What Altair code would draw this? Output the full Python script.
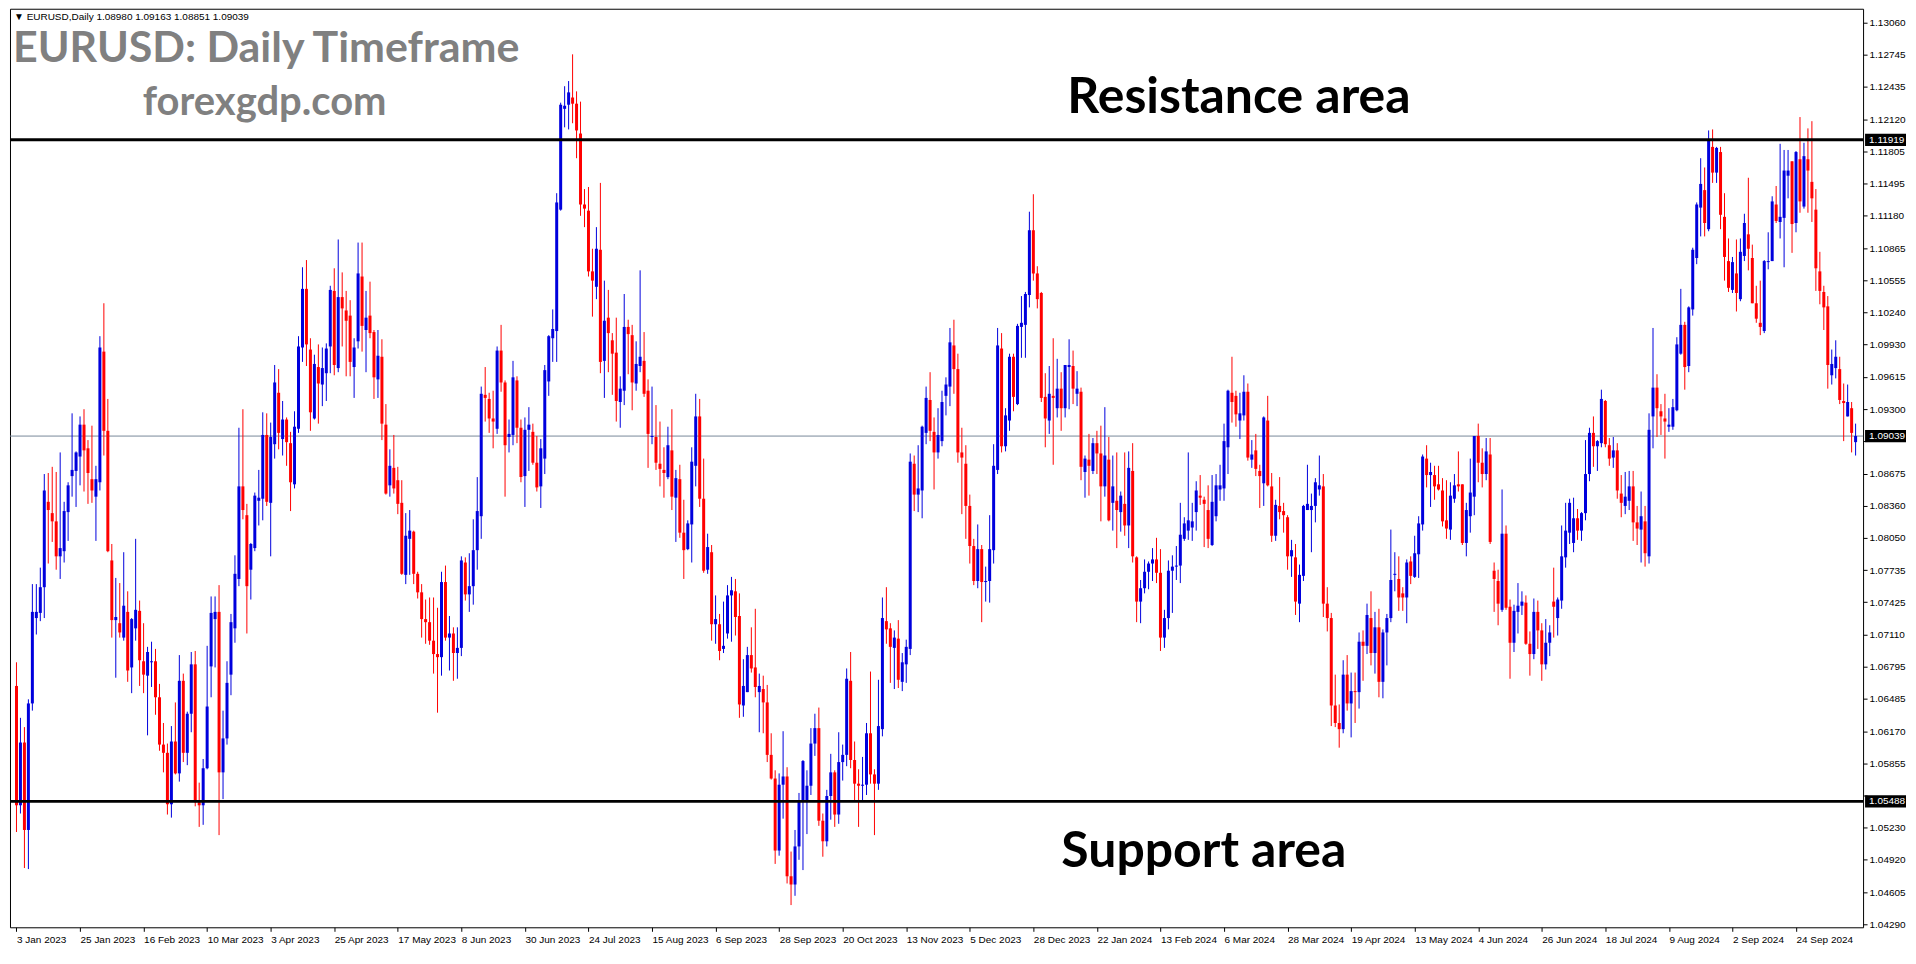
import altair as alt
import pandas as pd

# Daily EURUSD candles, 3 Jan 2023 .. 15 Oct 2024 (prices in 1/10000)
OPEN = [
    10661, 10545, 10606, 10521, 10644, 10727, 10732, 10757, 10840, 10829, 10821, 10787, 10792, 10830, 10865, 10870,
    10884, 10915, 10892, 10862, 10845, 10859, 10986, 10909, 10783, 10725, 10722, 10708, 10733, 10679, 10717, 10734,
    10685, 10671, 10684, 10685, 10650, 10604, 10596, 10546, 10607, 10576, 10666, 10596, 10634, 10682, 10548, 10545,
    10581, 10680, 10726, 10733, 10577, 10610, 10672, 10717, 10765, 10855, 10827, 10774, 10795, 10841, 10843, 10905,
    10839, 10896, 10946, 10901, 10920, 10897, 10857, 10911, 10990, 11047, 10988, 10921, 10971, 10954, 10965, 10991,
    11045, 10970, 11039, 11026, 11021, 10971, 10996, 11059, 11007, 11021, 11005, 10959, 10981, 10915, 10856, 10873,
    10861, 10839, 10769, 10804, 10811, 10770, 10752, 10726, 10723, 10705, 10692, 10689, 10762, 10708, 10712, 10693,
    10698, 10781, 10750, 10758, 10793, 10826, 10944, 10940, 10921, 10911, 10987, 10956, 10903, 10905, 10958, 10912,
    10865, 10910, 10908, 10878, 10855, 10882, 10957, 10999, 11006, 11124, 11222, 11226, 11233, 11227, 11198, 11129,
    11123, 11064, 11049, 11085, 10977, 11019, 10997, 10985, 10937, 10948, 11010, 11002, 10955, 10972, 10977, 10948,
    10903, 10903, 10877, 10871, 10864, 10890, 10844, 10862, 10810, 10794, 10818, 10875, 10923, 10843, 10774, 10791,
    10721, 10721, 10697, 10712, 10749, 10753, 10729, 10642, 10655, 10691, 10679, 10655, 10658, 10645, 10594, 10571,
    10501, 10565, 10573, 10476, 10468, 10505, 10549, 10550, 10564, 10605, 10620, 10530, 10510, 10554, 10577, 10536,
    10587, 10594, 10666, 10589, 10566, 10564, 10565, 10615, 10575, 10566, 10619, 10724, 10717, 10698, 10707, 10665,
    10682, 10697, 10877, 10847, 10851, 10907, 10939, 10908, 10888, 10899, 10943, 10952, 10992, 10969, 10888, 10877,
    10836, 10797, 10763, 10794, 10762, 10763, 10793, 10871, 10989, 10894, 10919, 10981, 10935, 11010, 11012, 11041,
    11104, 11062, 11043, 10942, 10919, 10943, 10931, 10950, 10931, 10971, 10972, 10945, 10947, 10869, 10881, 10870,
    10897, 10887, 10855, 10881, 10839, 10841, 10830, 10838, 10817, 10870, 10786, 10743, 10756, 10772, 10780, 10784,
    10771, 10708, 10727, 10773, 10777, 10778, 10804, 10812, 10815, 10830, 10846, 10842, 10832, 10798, 10826, 10852,
    10853, 10893, 10946, 10943, 10919, 10924, 10947, 10881, 10890, 10870, 10858, 10919, 10855, 10807, 10836, 10831,
    10825, 10787, 10786, 10741, 10768, 10832, 10832, 10836, 10852, 10855, 10741, 10727, 10642, 10625, 10619, 10672,
    10644, 10656, 10655, 10704, 10700, 10727, 10693, 10718, 10665, 10713, 10727, 10769, 10765, 10751, 10747, 10782,
    10767, 10789, 10818, 10882, 10866, 10866, 10857, 10851, 10822, 10813, 10843, 10857, 10857, 10800, 10826, 10845,
    10904, 10878, 10867, 10886, 10773, 10763, 10735, 10809, 10738, 10703, 10733, 10739, 10742, 10702, 10692, 10733,
    10715, 10682, 10703, 10743, 10727, 10744, 10786, 10810, 10800, 10824, 10812, 10829, 10867, 10907, 10894, 10897,
    10938, 10895, 10883, 10890, 10848, 10836, 10841, 10855, 10820, 10813, 10821, 10787, 10923, 10951, 10928, 10921,
    10913, 10913, 10929, 10984, 11012, 10972, 11027, 11077, 11126, 11143, 11105, 11185, 11160, 11180, 11117, 11074,
    11046, 11062, 11037, 11079, 11100, 11077, 11033, 11014, 11006, 11073, 11074, 11129, 11112, 11116, 11157, 11171,
    11111, 11173, 11127, 11173, 11151, 11124, 11064, 11044, 11030, 10963, 10970, 10969, 10938, 10923, 10931, 10898,
]
HIGH = [
    10684, 10630, 10621, 10648, 10760, 10760, 10776, 10867, 10868, 10874, 10869, 10888, 10840, 10859, 10926, 10889,
    10923, 10930, 10900, 10914, 10875, 11001, 11033, 10940, 10799, 10766, 10761, 10791, 10753, 10727, 10804, 10744,
    10722, 10699, 10704, 10697, 10663, 10625, 10605, 10622, 10645, 10691, 10673, 10636, 10694, 10695, 10567, 10590,
    10700, 10748, 10748, 10759, 10637, 10685, 10731, 10788, 10912, 10930, 10838, 10800, 10849, 10871, 10927, 10926,
    10917, 10973, 10969, 10938, 10922, 10908, 10928, 11001, 11068, 11075, 10999, 10983, 10993, 10990, 10994, 11050,
    11067, 11095, 11063, 11045, 11036, 10999, 11092, 11092, 11045, 11054, 11007, 11007, 10998, 10935, 10891, 10905,
    10874, 10861, 10829, 10832, 10812, 10772, 10760, 10745, 10747, 10747, 10737, 10772, 10778, 10729, 10718, 10718,
    10787, 10786, 10790, 10823, 10864, 10952, 10971, 10946, 10948, 10991, 11012, 10958, 10920, 10977, 10962, 10920,
    10922, 10932, 10916, 10904, 10901, 10973, 11002, 11027, 11140, 11228, 11244, 11249, 11275, 11239, 11229, 11144,
    11146, 11086, 11107, 11150, 11055, 11046, 11004, 11019, 10962, 11042, 11017, 11012, 10996, 11065, 11005, 10959,
    10952, 10934, 10918, 10893, 10913, 10930, 10871, 10876, 10842, 10822, 10893, 10945, 10940, 10882, 10809, 10798,
    10749, 10731, 10743, 10759, 10767, 10765, 10751, 10687, 10699, 10718, 10736, 10673, 10671, 10662, 10615, 10579,
    10576, 10617, 10582, 10500, 10521, 10557, 10589, 10579, 10620, 10634, 10640, 10537, 10560, 10595, 10579, 10616,
    10604, 10678, 10694, 10607, 10580, 10592, 10625, 10675, 10580, 10667, 10747, 10757, 10722, 10715, 10725, 10693,
    10706, 10887, 10885, 10895, 10914, 10952, 10966, 10922, 10931, 10948, 10961, 11009, 11017, 10984, 10912, 10895,
    10847, 10804, 10818, 10798, 10777, 10827, 10896, 11009, 11004, 10931, 10984, 10984, 11013, 11040, 11044, 11122,
    11139, 11069, 11044, 10965, 10972, 10999, 10979, 10966, 10973, 10998, 10987, 10967, 10951, 10885, 10906, 10902,
    10909, 10914, 10932, 10903, 10885, 10888, 10850, 10888, 10889, 10897, 10787, 10764, 10784, 10782, 10795, 10805,
    10794, 10735, 10783, 10788, 10797, 10839, 10825, 10888, 10839, 10860, 10866, 10845, 10856, 10866, 10867, 10876,
    10916, 10949, 10981, 10948, 10946, 10963, 10955, 10900, 10906, 10876, 10923, 10943, 10868, 10842, 10864, 10839,
    10827, 10803, 10799, 10779, 10837, 10876, 10848, 10863, 10885, 10867, 10757, 10732, 10672, 10643, 10686, 10691,
    10674, 10674, 10713, 10715, 10741, 10753, 10733, 10736, 10716, 10731, 10813, 10791, 10787, 10757, 10784, 10787,
    10807, 10826, 10886, 10895, 10878, 10875, 10875, 10863, 10861, 10859, 10867, 10889, 10857, 10839, 10882, 10904,
    10916, 10892, 10902, 10902, 10781, 10774, 10852, 10817, 10745, 10740, 10761, 10753, 10749, 10714, 10746, 10744,
    10722, 10726, 10720, 10776, 10747, 10817, 10839, 10843, 10844, 10833, 10830, 10900, 10912, 10923, 10900, 10949,
    10939, 10902, 10903, 10897, 10866, 10869, 10870, 10870, 10836, 10850, 10836, 10926, 11009, 10964, 10935, 10945,
    10931, 10940, 11000, 11047, 11015, 11030, 11087, 11131, 11174, 11165, 11201, 11202, 11185, 11185, 11140, 11096,
    11078, 11095, 11096, 11120, 11155, 11090, 11050, 11055, 11075, 11102, 11137, 11147, 11188, 11182, 11182, 11171,
    11181, 11214, 11189, 11203, 11210, 11144, 11083, 11050, 11040, 10988, 10997, 10981, 10955, 10954, 10937, 10916,
]
LOW = [
    10519, 10537, 10484, 10483, 10637, 10711, 10724, 10727, 10780, 10801, 10774, 10765, 10781, 10802, 10845, 10835,
    10856, 10850, 10838, 10839, 10802, 10851, 10885, 10791, 10708, 10669, 10708, 10705, 10665, 10654, 10705, 10661,
    10654, 10613, 10660, 10633, 10598, 10577, 10536, 10533, 10575, 10568, 10587, 10584, 10616, 10544, 10524, 10526,
    10580, 10650, 10679, 10516, 10551, 10604, 10652, 10703, 10758, 10823, 10712, 10745, 10792, 10817, 10822, 10836,
    10787, 10882, 10891, 10885, 10875, 10831, 10853, 10907, 10976, 10972, 10909, 10920, 10916, 10933, 10938, 10965,
    10963, 10966, 10991, 10962, 10962, 10941, 10989, 10986, 10966, 10999, 10940, 10941, 10900, 10847, 10845, 10848,
    10828, 10769, 10760, 10769, 10760, 10746, 10708, 10702, 10701, 10673, 10635, 10671, 10705, 10676, 10666, 10668,
    10690, 10744, 10733, 10740, 10774, 10804, 10918, 10907, 10892, 10906, 10947, 10845, 10888, 10895, 10897, 10859,
    10835, 10870, 10876, 10850, 10834, 10867, 10943, 10976, 10976, 11123, 11204, 11202, 11208, 11174, 11118, 11107,
    11059, 11020, 11037, 10965, 10941, 10966, 10944, 10918, 10912, 10934, 10964, 10929, 10948, 10966, 10942, 10873,
    10896, 10871, 10855, 10844, 10862, 10832, 10801, 10805, 10765, 10793, 10781, 10855, 10835, 10771, 10770, 10705,
    10702, 10686, 10693, 10707, 10704, 10710, 10630, 10631, 10655, 10674, 10650, 10616, 10615, 10587, 10570, 10488,
    10496, 10532, 10469, 10448, 10457, 10492, 10482, 10517, 10555, 10593, 10525, 10495, 10505, 10531, 10524, 10527,
    10569, 10583, 10581, 10549, 10524, 10550, 10555, 10566, 10516, 10560, 10612, 10702, 10664, 10658, 10659, 10656,
    10664, 10691, 10831, 10830, 10824, 10896, 10899, 10852, 10882, 10894, 10924, 10933, 10945, 10878, 10828, 10804,
    10780, 10759, 10756, 10723, 10743, 10742, 10780, 10867, 10888, 10889, 10909, 10928, 10934, 10980, 10980, 11029,
    11055, 11028, 10937, 10893, 10906, 10876, 10922, 10909, 10922, 10930, 10935, 10933, 10861, 10844, 10846, 10867,
    10867, 10821, 10845, 10821, 10812, 10795, 10811, 10807, 10795, 10781, 10723, 10722, 10751, 10755, 10763, 10761,
    10695, 10698, 10716, 10732, 10764, 10761, 10802, 10803, 10802, 10812, 10837, 10796, 10795, 10797, 10821, 10841,
    10841, 10867, 10917, 10913, 10901, 10919, 10880, 10873, 10865, 10834, 10836, 10855, 10801, 10802, 10823, 10810,
    10774, 10767, 10730, 10723, 10763, 10832, 10791, 10820, 10846, 10728, 10714, 10622, 10621, 10601, 10615, 10637,
    10611, 10625, 10639, 10666, 10692, 10681, 10673, 10650, 10649, 10681, 10723, 10753, 10734, 10734, 10722, 10760,
    10766, 10766, 10812, 10854, 10835, 10842, 10851, 10816, 10804, 10803, 10839, 10850, 10798, 10787, 10810, 10827,
    10859, 10854, 10861, 10799, 10733, 10720, 10733, 10735, 10668, 10694, 10712, 10730, 10701, 10671, 10687, 10697,
    10666, 10677, 10690, 10708, 10710, 10736, 10776, 10799, 10791, 10803, 10802, 10822, 10860, 10874, 10870, 10893,
    10893, 10875, 10873, 10843, 10825, 10828, 10832, 10802, 10798, 10781, 10777, 10780, 10892, 10903, 10905, 10882,
    10908, 10910, 10928, 10983, 10949, 10966, 11021, 11071, 11098, 11098, 11103, 11150, 11150, 11105, 11055, 11044,
    11043, 11025, 11035, 11074, 11065, 11033, 11014, 11002, 11004, 11066, 11074, 11111, 11096, 11068, 11135, 11082,
    11102, 11121, 11125, 11121, 11112, 11045, 11032, 11007, 10950, 10954, 10960, 10935, 10899, 10923, 10888, 10885,
]
CLOSE = [
    10545, 10606, 10521, 10644, 10733, 10733, 10757, 10851, 10832, 10821, 10787, 10795, 10831, 10856, 10871, 10888,
    10915, 10890, 10868, 10851, 10862, 10990, 10909, 10792, 10725, 10728, 10713, 10739, 10676, 10726, 10735, 10686,
    10672, 10694, 10685, 10650, 10604, 10596, 10546, 10607, 10576, 10666, 10596, 10634, 10682, 10548, 10545, 10581,
    10641, 10732, 10733, 10577, 10610, 10664, 10723, 10770, 10855, 10832, 10758, 10799, 10846, 10844, 10905, 10840,
    10903, 10956, 10907, 10920, 10898, 10859, 10913, 10991, 11047, 10993, 10927, 10974, 10955, 10970, 10989, 11046,
    10973, 11039, 11028, 11016, 10976, 10990, 11062, 11011, 11019, 11004, 10961, 10982, 10916, 10848, 10875, 10853,
    10838, 10770, 10807, 10812, 10770, 10752, 10726, 10723, 10705, 10692, 10689, 10762, 10708, 10712, 10693, 10698,
    10783, 10750, 10758, 10793, 10831, 10945, 10941, 10921, 10918, 10987, 10956, 10895, 10906, 10961, 10912, 10864,
    10910, 10915, 10878, 10854, 10892, 10968, 11001, 11008, 11131, 11226, 11225, 11238, 11227, 11201, 11129, 11125,
    11064, 11055, 11086, 10976, 11016, 11004, 10984, 10938, 10950, 11010, 11003, 10956, 10974, 10981, 10945, 10906,
    10904, 10878, 10872, 10868, 10895, 10845, 10863, 10810, 10793, 10819, 10879, 10923, 10843, 10773, 10796, 10721,
    10726, 10695, 10700, 10749, 10754, 10728, 10643, 10661, 10691, 10678, 10660, 10661, 10645, 10594, 10571, 10501,
    10565, 10573, 10476, 10468, 10505, 10549, 10588, 10564, 10605, 10620, 10530, 10510, 10554, 10577, 10536, 10587,
    10594, 10668, 10589, 10566, 10564, 10565, 10615, 10575, 10566, 10622, 10727, 10716, 10699, 10708, 10667, 10684,
    10699, 10879, 10847, 10853, 10913, 10941, 10909, 10888, 10905, 10937, 10954, 10995, 10969, 10888, 10883, 10836,
    10797, 10763, 10794, 10762, 10763, 10794, 10875, 10992, 10894, 10924, 10981, 10942, 11011, 11014, 11042, 11104,
    11062, 11037, 10941, 10921, 10945, 10941, 10950, 10931, 10973, 10973, 10950, 10950, 10874, 10882, 10875, 10897,
    10887, 10855, 10885, 10822, 10855, 10832, 10846, 10817, 10873, 10787, 10743, 10756, 10772, 10780, 10784, 10771,
    10708, 10727, 10773, 10777, 10778, 10808, 10819, 10822, 10821, 10851, 10844, 10838, 10804, 10840, 10856, 10856,
    10899, 10948, 10937, 10925, 10926, 10947, 10883, 10886, 10872, 10865, 10922, 10856, 10807, 10837, 10830, 10827,
    10787, 10793, 10743, 10769, 10836, 10838, 10836, 10859, 10856, 10741, 10727, 10642, 10625, 10619, 10672, 10644,
    10656, 10655, 10704, 10700, 10730, 10693, 10718, 10665, 10713, 10727, 10764, 10770, 10747, 10747, 10781, 10768,
    10790, 10819, 10884, 10866, 10869, 10855, 10852, 10821, 10814, 10846, 10856, 10855, 10800, 10832, 10849, 10904,
    10878, 10867, 10889, 10801, 10765, 10741, 10809, 10737, 10703, 10734, 10739, 10743, 10702, 10692, 10733, 10715,
    10682, 10703, 10713, 10738, 10745, 10787, 10812, 10839, 10824, 10812, 10829, 10867, 10907, 10894, 10899, 10940,
    10896, 10882, 10890, 10851, 10839, 10845, 10855, 10820, 10814, 10826, 10790, 10910, 10951, 10931, 10923, 10918,
    10915, 10932, 10993, 11012, 10971, 11029, 11085, 11129, 11149, 11111, 11191, 11160, 11184, 11119, 11078, 11048,
    11073, 11043, 11083, 11111, 11086, 11033, 11018, 11010, 11074, 11074, 11132, 11113, 11117, 11162, 11162, 11110,
    11180, 11132, 11176, 11162, 11135, 11067, 11045, 11029, 10973, 10974, 10981, 10939, 10936, 10937, 10907, 10904,
]

DATE_LABELS = [
    "3 Jan 2023", "25 Jan 2023", "16 Feb 2023", "10 Mar 2023", "3 Apr 2023", "25 Apr 2023",
    "17 May 2023", "8 Jun 2023", "30 Jun 2023", "24 Jul 2023", "15 Aug 2023", "6 Sep 2023",
    "28 Sep 2023", "20 Oct 2023", "13 Nov 2023", "5 Dec 2023", "28 Dec 2023", "22 Jan 2024",
    "13 Feb 2024", "6 Mar 2024", "28 Mar 2024", "19 Apr 2024", "13 May 2024", "4 Jun 2024",
    "26 Jun 2024", "18 Jul 2024", "9 Aug 2024", "2 Sep 2024", "24 Sep 2024",
]
DATE_TICKS = list(range(0, 16 * len(DATE_LABELS), 16))  # bar index of each date label
PRICE_TICKS = [
    1.13060, 1.12745, 1.12435, 1.12120, 1.11805, 1.11495, 1.11180, 1.10865, 1.10555, 1.10240,
    1.09930, 1.09615, 1.09300, 1.08990, 1.08675, 1.08360, 1.08050, 1.07735, 1.07425, 1.07110,
    1.06795, 1.06485, 1.06170, 1.05855, 1.05545, 1.05230, 1.04920, 1.04605, 1.04290,
]
HIDDEN_PRICE_LABELS = ["1.08990", "1.05545"]  # covered by the price tags in the original
RESISTANCE = 1.11919
SUPPORT = 1.05488
LAST_PRICE = 1.09039
HEADER = "\u25bc EURUSD,Daily  1.08980 1.09163 1.08851 1.09039"

assert len(OPEN) == len(HIGH) == len(LOW) == len(CLOSE) == 464

W, H = 1856, 920
X_DOMAIN = [-0.375, 463.625]
Y_DOMAIN = [1.04264, 1.13193]
BLUE = "#0000dd"
RED = "#ff0000"
FONT = "Liberation Sans"
TITLE_FONT = "Lato"

bars = pd.DataFrame({
    "i": list(range(len(OPEN))),
    "o": [v / 10000 for v in OPEN],
    "h": [v / 10000 for v in HIGH],
    "l": [v / 10000 for v in LOW],
    "c": [v / 10000 for v in CLOSE],
    "dir": ["up" if c >= o else "down" for o, c in zip(OPEN, CLOSE)],
})

xs = alt.Scale(domain=X_DOMAIN, nice=False, zero=False)
ys = alt.Scale(domain=Y_DOMAIN, nice=False, zero=False)
x_label_expr = "[" + ",".join("'%s'" % s for s in DATE_LABELS) + "][round(datum.value / 16)]"
hidden = "[" + ",".join("'%s'" % s for s in HIDDEN_PRICE_LABELS) + "]"
y_label_expr = ("indexof(%s, format(datum.value, '.5f')) >= 0 ? '' : format(datum.value, '.5f')" % hidden)

x_axis = alt.Axis(values=DATE_TICKS, labelExpr=x_label_expr, labelAlign="left", labelBaseline="top",
                  labelPadding=3, tickSize=4, tickColor="black", labelColor="black", labelFont=FONT,
                  labelFontSize=10, labelOverlap=False, labelFlush=False, domain=False, grid=False, title=None)
y_axis = alt.Axis(orient="right", values=PRICE_TICKS, labelExpr=y_label_expr, tickSize=4, tickColor="black",
                  labelColor="black", labelFont=FONT, labelFontSize=10, labelPadding=2, labelOverlap=False,
                  labelFlush=False, domain=False, grid=False, title=None)
color = alt.Color("dir:N", scale=alt.Scale(domain=["up", "down"], range=[BLUE, RED]), legend=None)


def xq(field):
    return alt.X(field, scale=xs, axis=x_axis, title=None)


def yq(field):
    return alt.Y(field, scale=ys, axis=y_axis, title=None)


wicks = alt.Chart(bars).mark_rule(strokeWidth=1).encode(
    x=xq("i:Q"), y=yq("l:Q"), y2="h:Q", color=color,
)
bodies = alt.Chart(bars).mark_bar(width=3, opacity=1).encode(
    x=xq("i:Q"), y=yq("o:Q"), y2="c:Q", color=color,
)

gray_line = alt.Chart(pd.DataFrame({"p": [LAST_PRICE]})).mark_rule(color="#778899", strokeWidth=1).encode(
    y=yq("p:Q"))
levels = alt.Chart(pd.DataFrame({"p": [RESISTANCE, SUPPORT]})).mark_rule(color="black", strokeWidth=3).encode(
    y=yq("p:Q"))

tags = pd.DataFrame({"p": [RESISTANCE, LAST_PRICE, SUPPORT]})
tags["t"] = ["%.5f" % v for v in tags["p"]]
tag_box = alt.Chart(tags).mark_point(
    shape="M-1,-0.3L1,-0.3L1,0.3L-1,0.3Z", size=41 * 41, filled=True, color="black",
    opacity=1, strokeWidth=0,
).encode(x=alt.value(W + 22.5), y=yq("p:Q"))
tag_text = alt.Chart(tags).mark_text(
    align="left", baseline="middle", color="white", font=FONT, fontSize=10,
).encode(x=alt.value(W + 6), y=yq("p:Q"), text="t:N")


def label(text, x, y, size, color, weight="bold", font=TITLE_FONT, baseline="alphabetic"):
    return alt.Chart(pd.DataFrame({"t": [text]})).mark_text(
        align="left", baseline=baseline, font=font, fontSize=size, fontWeight=weight, color=color,
    ).encode(x=alt.value(x), y=alt.value(y), text="t:N")


header = label(HEADER, 4, 8, 10, "black", weight="normal", font=FONT, baseline="middle")
title = label("EURUSD: Daily Timeframe", 3, 53, 43, "#808080")
site = label("forexgdp.com", 133, 106, 40, "#808080")
res_text = label("Resistance area", 1059, 104, 50, "black")
sup_text = label("Support area", 1053, 860, 50, "black")

chart = alt.layer(
    gray_line, wicks, bodies, levels, tag_box, tag_text, header, title, site, res_text, sup_text,
).properties(
    width=W, height=H, background="white",
    padding={"left": 0, "top": 0, "right": 2, "bottom": 2},
).configure_view(stroke="black", strokeWidth=1)

chart.save("out.html", embed_options={"renderer": "svg", "actions": False})
